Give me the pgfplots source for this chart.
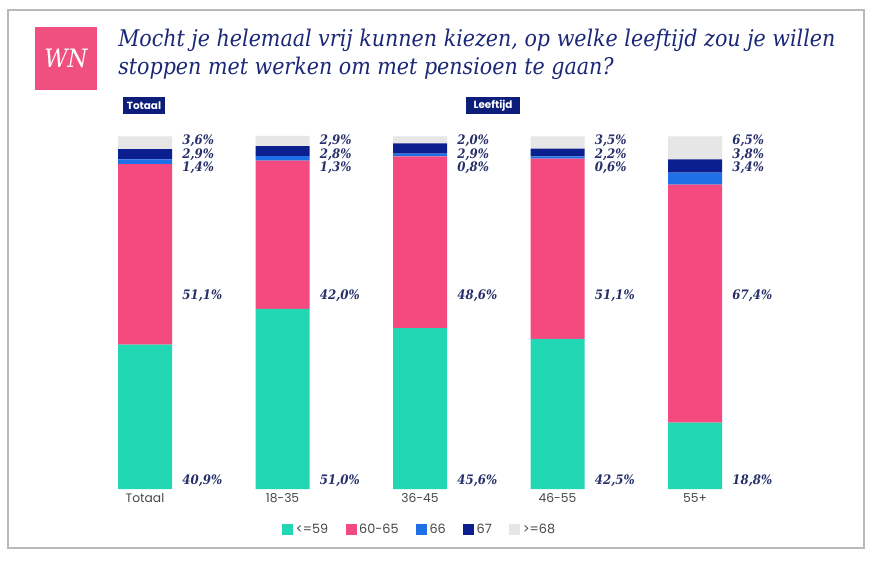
\documentclass[border=0pt]{standalone}
\usepackage{fontspec}
\setmainfont{Poppins}
\newfontfamily\slab{DejaVu Serif Condensed}
\usepackage{pgfplots}
\usepackage{pgfplotstable}
\pgfplotsset{compat=1.18}
\definecolor{cgreen}{HTML}{22D8B4}
\definecolor{cpink}{HTML}{F44A80}
\definecolor{cblue}{HTML}{1F6FE6}
\definecolor{cnavy}{HTML}{0B1F8F}
\definecolor{cgray}{HTML}{E6E6E6}
\definecolor{ctext}{HTML}{27306A}
\definecolor{ctitle}{HTML}{1B2878}
\definecolor{clogo}{HTML}{F0507F}
\definecolor{ctag}{HTML}{0D1E7A}

\pgfplotstableread{
x a b c d e
0 40.9 51.1 1.4 2.9 3.6
1 51.0 42.0 1.3 2.8 2.9
2 45.6 48.6 0.8 2.9 2.0
3 42.5 51.1 0.6 2.2 3.5
4 18.8 67.4 3.4 3.8 6.5
}\data

\newcommand{\lab}[3]{\node[anchor=west,font=\slab\bfseries\itshape\fontsize{9.8}{9.8}\selectfont,text=ctext,inner sep=0pt] at (axis cs:#1+0.27,#2) {#3};}

\begin{document}
\begin{tikzpicture}
\path[use as bounding box] (0pt,0pt) rectangle (656.25pt,420.75pt);
\fill[white] (0pt,0pt) rectangle (656.25pt,420.75pt);
\begin{scope}[x=0.75pt,y=-0.75pt,shift={(0pt,420.75pt)}]
  \draw[color=gray!55,line width=1.1pt] (8,10) rectangle (864,548);
  \fill[clogo] (35,27) rectangle (97,90);
  \node[text=white,font=\slab\itshape\fontsize{19}{19}\selectfont] at (66,58.5) {WN};
  \node[anchor=base west,text=ctitle,font=\slab\itshape\fontsize{17.2}{17.2}\selectfont,inner sep=0pt] at (118,47) {Mocht je helemaal vrij kunnen kiezen, op welke leeftijd zou je willen};
  \node[anchor=base west,text=ctitle,font=\slab\itshape\fontsize{17.2}{17.2}\selectfont,inner sep=0pt] at (118,75) {stoppen met werken om met pensioen te gaan?};
  \fill[ctag] (123,97) rectangle (165,114);
  \node[text=white,font=\bfseries\fontsize{7.8}{7.8}\selectfont] at (144,105.5) {Totaal};
  \fill[ctag] (466,97) rectangle (520,114);
  \node[text=white,font=\bfseries\fontsize{7.8}{7.8}\selectfont] at (493,105.5) {Leeftijd};
\end{scope}
\begin{axis}[
  at={(57.1875pt,54pt)}, anchor=south west,
  scale only axis, width=515.625pt, height=264.75pt,
  ybar stacked, bar width=40.5pt,
  xmin=-0.5, xmax=4.5, ymin=0, ymax=100,
  xtick=data, xticklabels={Totaal,18-35,36-45,46-55,55+},
  ytick=\empty,
  axis line style={draw=none}, tick style={draw=none},
  xticklabel style={font=\fontsize{9.2}{9.2}\selectfont,text=black!72},
  clip=false,
  legend columns=5,
  legend style={draw=none,fill=none,at={(0.5,-0.116)},anchor=center,
    font=\fontsize{9.6}{9.6}\selectfont,text=black!72,
    /tikz/every even column/.append style={column sep=11pt}},
  legend image code/.code={\fill[#1] (0pt,-4.1pt) rectangle (8.2pt,4.1pt);},
]
\addplot[fill=cgreen,draw=none] table[x=x,y=a] {\data};
\addplot[fill=cpink,draw=none] table[x=x,y=b] {\data};
\addplot[fill=cblue,draw=none] table[x=x,y=c] {\data};
\addplot[fill=cnavy,draw=none] table[x=x,y=d] {\data};
\addplot[fill=cgray,draw=none] table[x=x,y=e] {\data};
\legend{<=59,60-65,66,67,>=68}
\lab{0}{98.6}{3,6\%}\lab{0}{94.6}{2,9\%}\lab{0}{90.9}{1,4\%}\lab{0}{54.7}{51,1\%}\lab{0}{2.3}{40,9\%}
\lab{1}{98.6}{2,9\%}\lab{1}{94.6}{2,8\%}\lab{1}{90.9}{1,3\%}\lab{1}{54.7}{42,0\%}\lab{1}{2.3}{51,0\%}
\lab{2}{98.6}{2,0\%}\lab{2}{94.6}{2,9\%}\lab{2}{90.9}{0,8\%}\lab{2}{54.7}{48,6\%}\lab{2}{2.3}{45,6\%}
\lab{3}{98.6}{3,5\%}\lab{3}{94.6}{2,2\%}\lab{3}{90.9}{0,6\%}\lab{3}{54.7}{51,1\%}\lab{3}{2.3}{42,5\%}
\lab{4}{98.6}{6,5\%}\lab{4}{94.6}{3,8\%}\lab{4}{90.9}{3,4\%}\lab{4}{54.7}{67,4\%}\lab{4}{2.3}{18,8\%}
\end{axis}
\end{tikzpicture}
\end{document}
